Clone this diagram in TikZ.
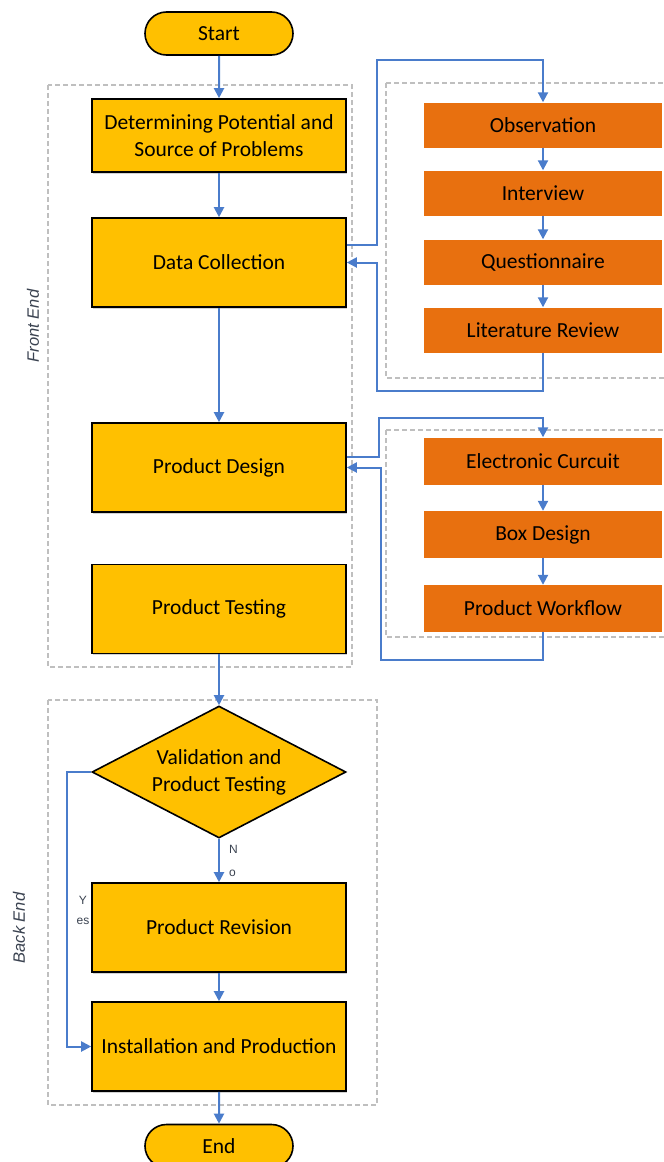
\documentclass[tikz,border=0pt]{standalone}
\usepackage{fontspec}
\setmainfont{Carlito}
\setsansfont{Liberation Sans}
\usetikzlibrary{shapes.geometric,shapes.misc,arrows.meta,calc,shadows}
\definecolor{ybox}{HTML}{FFC000}
\definecolor{obox}{HTML}{E8700F}
\definecolor{flowc}{HTML}{4A7CCB}
\definecolor{dashc}{HTML}{BFBFBF}
\definecolor{lblc}{HTML}{3A4250}
\begin{document}
\begin{tikzpicture}[x=1pt,y=-1pt,
  yelbox/.style={draw=black,line width=1.6pt,fill=ybox,minimum width=254pt,inner sep=0pt,align=center,
    font=\fontsize{21.5}{27}\selectfont,text=black,
    drop shadow={shadow xshift=1pt,shadow yshift=-1.5pt,opacity=0.35}},
  orbox/.style={fill=obox,minimum width=238pt,minimum height=45pt,inner sep=0pt,
    font=\fontsize{21.5}{24}\selectfont,text=black},
  termbox/.style={draw=black,line width=1.6pt,fill=ybox,rounded rectangle,minimum width=148pt,minimum height=43pt,
    inner sep=0pt,font=\fontsize{21.5}{24}\selectfont,text=black},
  flowarr/.style={draw=flowc,line width=2pt,-{Triangle[length=10pt,width=10pt]}},
  groupbox/.style={draw=dashc,line width=1.6pt,dash pattern=on 5pt off 3pt},
  sidelbl/.style={font=\sffamily\itshape\fontsize{16.5}{18}\selectfont,text=lblc,rotate=90},
  smalllbl/.style={font=\sffamily\fontsize{12}{13}\selectfont,text=lblc,inner sep=0pt}
]
\useasboundingbox (0,0) rectangle (664,1162);
% groups
\draw[groupbox] (48,85) rectangle (352,667);
\draw[groupbox] (386,83) -- (664,83);
\draw[groupbox] (386,83) -- (386,378) -- (664,378);
\draw[groupbox] (386,430) -- (664,430);
\draw[groupbox] (386,430) -- (386,637) -- (664,637);
\draw[groupbox] (48,700) rectangle (377,1105);
\node[sidelbl] (fe) at (33,326) {Front End};
\node[sidelbl] (be) at (19,928) {Back End};

% nodes
\node[termbox] (start) at (219,33.5) {Start};
\node[yelbox,minimum height=73pt] (det) at (219,135.5) {Determining Potential and\\Source of Problems};
\node[yelbox,minimum height=89pt] (dc) at (219,262.5) {Data Collection};
\node[yelbox,minimum height=89pt] (pd) at (219,467.5) {Product Design};
\node[yelbox,minimum height=89pt] (pt) at (219,609) {Product Testing};

\node[orbox] (obs) at (543,125) {Observation};
\node[orbox] (int) at (543,193) {Interview};
\node[orbox] (que) at (543,262) {Questionnaire};
\node[orbox] (lit) at (543,330) {Literature Review};

\node[orbox,minimum height=47pt] (ec) at (543,461) {Electronic Curcuit};
\node[orbox,minimum height=47pt] (bd) at (543,534.5) {Box Design};
\node[orbox,minimum height=47pt] (pw) at (543,608.5) {Product Workflow};

\node[diamond,draw=black,line width=1.6pt,fill=ybox,minimum width=254pt,minimum height=132pt,inner sep=0pt,
  align=center,font=\fontsize{21.5}{27}\selectfont,text=black,aspect=1.92] (val) at (219,772) {Validation and\\Product Testing};
\node[yelbox,minimum height=89pt] (rev) at (219,927.5) {Product Revision};
\node[yelbox,minimum height=89pt] (ins) at (219,1046.5) {Installation and Production};
\node[termbox] (end) at (219,1146) {End};

% flows
\draw[flowarr] (start) -- (det);
\draw[flowarr] (det) -- (dc);
\draw[flowarr] (dc) -- (pd);
\draw[flowarr] (pt) -- (val);
\draw[flowarr] (val) -- node[pos=0.25,right=9pt,smalllbl] (no1) {N} node[pos=0.8,right=9pt,smalllbl] (no2) {o} (rev);
\draw[flowarr] (rev) -- (ins);
\draw[flowarr] (ins) -- (end);
\draw[flowarr] (val.west) -- ++(-24,0) |- (ins.west);
\node[smalllbl] (y1) at (83,900) {Y};
\node[smalllbl] (y2) at (83,921) {es};

\draw[flowarr] ([yshift=18pt]dc.east) -- ++(30,0) |- ($(obs.north)+(0,-42)$) -- (obs.north);
\draw[flowarr] (obs) -- (int);
\draw[flowarr] (int) -- (que);
\draw[flowarr] (que) -- (lit);
\draw[flowarr] (lit.south) -- ++(0,38) -| ($(dc.east)+(30,0)$) -- (dc.east);

\draw[flowarr] ([yshift=11pt]pd.east) -- ++(32,0) |- ($(ec.north)+(0,-19)$) -- (ec.north);
\draw[flowarr] (ec) -- (bd);
\draw[flowarr] (bd) -- (pw);
\draw[flowarr] (pw.south) -- ++(0,28) -| ($(pd.east)+(34,0)$) -- (pd.east);
\end{tikzpicture}
\end{document}
